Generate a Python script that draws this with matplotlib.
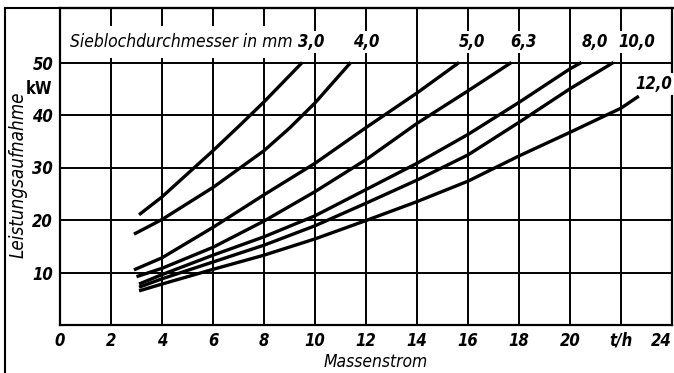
import matplotlib.pyplot as plt
from matplotlib.lines import Line2D

plt.rcParams['font.family'] = ['DejaVu Sans']
plt.rcParams['font.style'] = 'italic'
plt.rcParams['font.stretch'] = 'condensed'

# --- data (Massenstrom in t/h, Leistungsaufnahme in kW) ---
hole_labels = ['3,0', '4,0', '5,0', '6,3', '8,0', '10,0', '12,0']

flow_30 = [3.1, 4, 5, 6, 7, 8, 9.5]
power_30 = [21.0, 24.4, 28.8, 33.2, 37.8, 42.5, 50.0]

flow_40 = [2.9, 4, 6, 8, 9, 10, 11.4]
power_40 = [17.3, 20.1, 26.2, 33.2, 37.5, 42.3, 50.0]

flow_50 = [2.9, 4, 6, 8, 10, 12, 14, 15.65]
power_50 = [10.5, 12.8, 18.6, 24.8, 30.8, 37.6, 44.2, 50.0]

flow_63 = [3.0, 4, 6, 8, 10, 12, 14, 16, 17.7]
power_63 = [9.2, 10.8, 14.8, 19.8, 25.4, 31.5, 38.4, 44.6, 50.0]

flow_80 = [3.1, 4, 6, 8, 10, 12, 14, 16, 18, 20, 20.45]
power_80 = [7.8, 9.6, 13.3, 16.8, 20.8, 25.8, 30.8, 36.3, 42.4, 48.8, 50.0]

flow_100 = [3.1, 4, 6, 8, 10, 12, 14, 16, 18, 20, 21.7]
power_100 = [7.2, 8.8, 12.0, 15.2, 18.9, 23.2, 27.6, 32.4, 38.6, 45.0, 50.0]

flow_120 = [3.1, 4, 6, 8, 10, 12, 14, 16, 18, 20, 22, 22.7]
power_120 = [6.5, 7.8, 10.6, 13.3, 16.4, 19.9, 23.5, 27.4, 32.2, 36.7, 41.3, 43.6]

x_ticks = [0, 2, 4, 6, 8, 10, 12, 14, 16, 18, 20, 22, 24]
x_ticklabels = ['0', '2', '4', '6', '8', '10', '12', '14', '16', '18', '20', 't/h', '24']
y_ticks = [10, 20, 30, 40, 50]

curves = [(flow_30, power_30), (flow_40, power_40), (flow_50, power_50),
          (flow_63, power_63), (flow_80, power_80), (flow_100, power_100),
          (flow_120, power_120)]

# --- figure ---
W, H = 674, 373
fig = plt.figure(figsize=(W / 100, H / 100), dpi=100)
ax = fig.add_axes([60 / W, 48 / H, (672 - 60) / W, (365 - 48) / H])

ax.set_xlim(0, 24)
ax.set_ylim(0, 317 / 5.25)

ax.set_xticks(x_ticks)
ax.set_xticklabels(x_ticklabels)
ax.set_yticks(y_ticks)
ax.tick_params(length=0, labelsize=12, pad=5)
for lbl in ax.get_xticklabels() + ax.get_yticklabels():
    lbl.set_fontweight('bold')
ax.get_xticklabels()[-1].set_ha('right')

ax.grid(True, color='black', lw=1.4)
ax.set_axisbelow(True)
for sp in ax.spines.values():
    sp.set_linewidth(1.6)

for fx, py in curves:
    ax.plot(fx, py, color='black', lw=2.4, solid_capstyle='butt', zorder=3)

# header with hole diameters
box = dict(facecolor='white', edgecolor='none', pad=1.5)
ax.text(4.75, 53.9, 'Sieblochdurchmesser in mm', ha='center', va='center',
        fontsize=12.5, bbox=dict(facecolor='white', edgecolor='none', pad=5), zorder=4)
label_pos = [(9.84, 53.9), (12.0, 53.9), (16.16, 53.9), (18.16, 53.9),
             (20.98, 53.9), (22.63, 53.9), (23.3, 45.9)]
for lab, (lx, ly) in zip(hole_labels, label_pos):
    ax.text(lx, ly, lab, ha='center', va='center', fontsize=12, fontweight='bold',
            bbox=box, zorder=4)

ax.text(-0.3, 45, 'kW', ha='right', va='center', fontsize=12, style='normal',
        fontweight='bold')

fig.text(18 / W, 1 - 175 / H, 'Leistungsaufnahme', rotation=90,
         ha='center', va='center', fontsize=13.5)
fig.text(376 / W, 1 - 362 / H, 'Massenstrom', ha='center', va='center', fontsize=12.5)

# outer frame of the scanned figure
fig.add_artist(Line2D([5 / W, 5 / W], [0, 365 / H], transform=fig.transFigure,
                      color='black', lw=1.5))
fig.add_artist(Line2D([5 / W, 1], [365 / H, 365 / H], transform=fig.transFigure,
                      color='black', lw=1.5))

fig.savefig('out.png', dpi=100)
